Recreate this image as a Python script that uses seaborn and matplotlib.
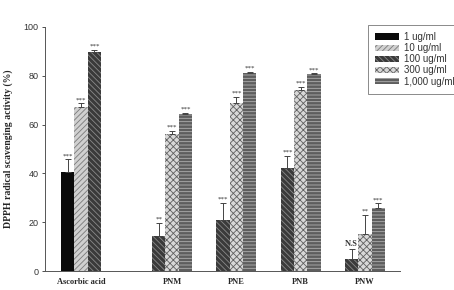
import matplotlib
matplotlib.use("Agg")
import matplotlib.pyplot as plt
from matplotlib.patches import Patch
import seaborn as sns
import pandas as pd

sns.set_theme(style="ticks")
plt.rcParams['font.family'] = ['Liberation Sans', 'DejaVu Sans']
plt.rcParams['hatch.linewidth'] = 0.6

# data
groups = ["Ascorbic acid", "PNM", "PNE", "PNB", "PNW"]
conc_order = ["1 ug/ml", "10 ug/ml", "100 ug/ml", "300 ug/ml", "1,000 ug/ml"]

asc_conc = ["1 ug/ml", "10 ug/ml", "100 ug/ml"]
pn_conc = ["100 ug/ml", "300 ug/ml", "1,000 ug/ml"]

asc_mean = [40.4, 67.1, 89.9]
asc_err = [5.4, 1.6, 0.7]
asc_sig = ["***", "***", "***"]

pnm_mean = [14.5, 56.0, 64.3]
pnm_err = [5.3, 1.5, 0.6]
pnm_sig = ["**", "***", "***"]

pne_mean = [20.9, 68.7, 81.0]
pne_err = [7.1, 2.7, 0.7]
pne_sig = ["***", "***", "***"]

pnb_mean = [42.1, 74.2, 80.6]
pnb_err = [5.2, 1.3, 0.4]
pnb_sig = ["***", "***", "***"]

pnw_mean = [4.9, 15.0, 25.7]
pnw_err = [4.0, 8.0, 2.0]
pnw_sig = ["N.S", "**", "***"]

rows = []
for g, cs, m, e, s in [("Ascorbic acid", asc_conc, asc_mean, asc_err, asc_sig),
                       ("PNM", pn_conc, pnm_mean, pnm_err, pnm_sig),
                       ("PNE", pn_conc, pne_mean, pne_err, pne_sig),
                       ("PNB", pn_conc, pnb_mean, pnb_err, pnb_sig),
                       ("PNW", pn_conc, pnw_mean, pnw_err, pnw_sig)]:
    for c, mm, ee, ss in zip(cs, m, e, s):
        rows.append({"group": g, "conc": c, "mean": mm, "err": ee, "sig": ss})
df = pd.DataFrame(rows)

# look of each concentration: face, hatch colour, hatch
styles = {
    "1 ug/ml": ("#0a0a0a", "#0a0a0a", ""),
    "10 ug/ml": ("#d0d0d0", "#7a7a7a", "//////"),
    "100 ug/ml": ("#3a3a3a", "#8a8a8a", "\\\\\\\\\\\\"),
    "300 ug/ml": ("#d8d8d8", "#606060", "xxxxx"),
    "1,000 ug/ml": ("#5e5e5e", "#b0b0b0", "-----"),
}

fig, ax = plt.subplots(figsize=(4.54, 2.9), dpi=100)
fig.subplots_adjust(left=0.099, right=0.881, bottom=0.0655, top=0.907)

sns.barplot(data=df, x="group", y="mean", hue="conc", order=groups,
            hue_order=conc_order, palette=[styles[c][0] for c in conc_order],
            width=1.035, errorbar=None, legend=False, ax=ax)

lookup = {(r.group, r.conc): r for r in df.itertuples()}
centers = {g: [] for g in groups}
for cont, c in zip(ax.containers, conc_order):
    face, edge, hatch = styles[c]
    for bar in cont:
        if bar.get_height() != bar.get_height() or bar.get_height() == 0:
            continue
        bar.set_facecolor(face)
        bar.set_edgecolor(edge)
        bar.set_hatch(hatch)
        bar.set_linewidth(0)
        x = bar.get_x() + bar.get_width() / 2
        g = groups[int(round(x))]
        centers[g].append(x)
        r = lookup[(g, c)]
        ax.errorbar(x, r.mean, yerr=[[0], [r.err]], fmt="none", ecolor="#444444",
                    elinewidth=0.7, capsize=2.5, capthick=0.7)
        ax.text(x, r.mean + r.err + 0.4, r.sig, ha="center", va="bottom",
                fontsize=5 if r.sig != "N.S" else 6, color="#333333",
                family="Liberation Serif", fontweight="bold" if r.sig == "N.S" else "normal",
                clip_on=False)

ax.set_xticks([sum(centers[g]) / len(centers[g]) for g in groups])
ax.set_xticklabels(groups, family="Liberation Serif", fontweight="bold", fontsize=6)
ax.tick_params(axis="x", length=0, pad=5)
ax.tick_params(axis="y", length=2.5, width=0.6, labelsize=6.5, colors="#333333", pad=2)
ax.set_xlim(-0.77, 4.75)
ax.set_ylim(0, 100)
ax.set_yticks([0, 20, 40, 60, 80, 100])
ax.set_xlabel("")
ax.set_ylabel("DPPH radical scavenging activity (%)", family="Liberation Serif",
              fontweight="bold", fontsize=7, labelpad=8)
sns.despine(ax=ax)
for sp in ["left", "bottom"]:
    ax.spines[sp].set_color("#555555")
    ax.spines[sp].set_linewidth(0.7)

handles = [Patch(facecolor=styles[c][0], edgecolor=styles[c][1], hatch=styles[c][2],
                 linewidth=0, label=c) for c in conc_order]
leg = fig.legend(handles=handles, loc="upper left", bbox_to_anchor=(0.811, 0.915),
                 fontsize=7, frameon=True, fancybox=False, edgecolor="#555555",
                 handlelength=2.4, handleheight=0.6, handletextpad=0.5,
                 labelspacing=0.12, borderpad=0.75, borderaxespad=0)
leg.get_frame().set_linewidth(0.6)
for t in leg.get_texts():
    t.set_color("#333333")

fig.savefig("out.png", dpi=100)
